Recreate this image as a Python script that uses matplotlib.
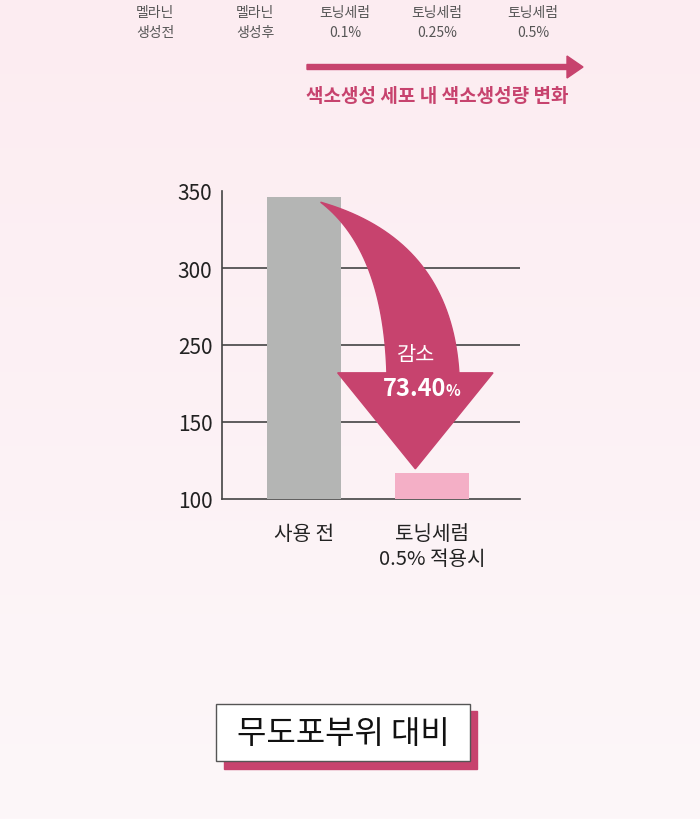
import numpy as np
import matplotlib.pyplot as plt
from matplotlib.patches import Polygon, Rectangle, FancyArrow
from matplotlib.scale import FuncScale

plt.rcParams['font.family'] = ['Noto Sans CJK KR', 'DejaVu Sans']

# data
categories = ['사용 전', '토닝세럼\n0.5% 적용시']
values = [346, 117]
bar_colors = ['#b4b5b4', '#f4afc6']
ytick_values = [100, 150, 250, 300, 350]   # the axis skips 200
stage_labels = ['멜라닌\n생성전', '멜라닌\n생성후', '토닝세럼\n0.1%', '토닝세럼\n0.25%', '토닝세럼\n0.5%']
stage_x = [155, 255, 345, 437, 533]        # pixel centers of the header columns
reduction_label = '73.40'

W, H = 700, 820
PINK = '#c7436e'

fig = plt.figure(figsize=(W / 100, H / 100), dpi=100)

# background gradient
bg = fig.add_axes([0, 0, 1, 1], zorder=-10)
grad = np.linspace(0, 1, 820)[:, None]
top = np.array([252, 236, 241]) / 255
bot = np.array([253, 247, 249]) / 255
img = top[None, None, :] * (1 - grad[:, :, None]) + bot[None, None, :] * grad[:, :, None]
bg.imshow(img, aspect='auto', extent=[0, 1, 0, 1], interpolation='bilinear')
bg.set_xlim(0, 1)
bg.set_ylim(0, 1)
bg.axis('off')


def fx(x):
    return x / W


def fy(y):
    return 1 - y / H


# header labels
for lbl, x in zip(stage_labels, stage_x):
    fig.text(fx(x), fy(23), lbl, ha='center', va='center', fontsize=10,
             color='#555555', linespacing=1.55)

fig.patches.append(FancyArrow(fx(307), fy(68), fx(567 - 307), 0, width=5 / H,
                              head_width=22 / H, head_length=16 / W,
                              length_includes_head=False, color=PINK,
                              transform=fig.transFigure, figure=fig))
fig.text(fx(437), fy(97), '색소생성 세포 내 색소생성량 변화', ha='center', va='center',
         fontsize=13.7, fontweight='bold', color=PINK)

# main chart with piecewise scale (ticks evenly spaced)
tick_pos = np.arange(len(ytick_values), dtype=float)


def fwd(v):
    return np.interp(v, ytick_values, tick_pos)


def inv(p):
    return np.interp(p, tick_pos, ytick_values)


ax = fig.add_axes([fx(222), fy(500), fx(520 - 222), (500 - 192) / H])
ax.set_facecolor('none')
ax.set_yscale(FuncScale(ax, (fwd, inv)))
x = np.arange(len(categories))
bars = ax.bar(x, values, width=0.58, color=bar_colors, zorder=3)
ax.set_xlim(-0.64, 1.6875)
ax.set_ylim(100, 350)
ax.set_yticks(ytick_values)
ax.set_yticklabels([str(v) for v in ytick_values], fontsize=15, color='#222222')
for v in ytick_values[1:-1]:
    ax.axhline(v, color='#444444', lw=1.2, zorder=1)
ax.set_xticks(x)
ax.set_xticklabels(categories, fontsize=14.5, color='#222222', linespacing=1.3, va='top')
ax.tick_params(axis='y', length=0, pad=7)
ax.tick_params(axis='x', length=0, pad=17)
for s in ['top', 'right']:
    ax.spines[s].set_visible(False)
for s in ['left', 'bottom']:
    ax.spines[s].set_color('#444444')
    ax.spines[s].set_linewidth(1.2)
ax.spines['left'].set_bounds(100, 350)

# curved arrow from first bar top to second bar top
fig.canvas.draw()
to_disp = ax.transData.transform
sx, sy = to_disp((x[0] + 0.58 / 2 - 0.16, values[0]))
sy -= 5
tx, ty = to_disp((x[1] - 0.13, values[1]))
ty += 4
dx, dy = tx - sx, sy - ty


def pt(u, v):
    return (sx + u * dx, sy - v * dy)


head_y = 0.64
outer = [pt(0, 0), pt(1.37, 0.14), pt(1.46, head_y)]
inner = [pt(0.70, head_y), pt(0.66, 0.18), pt(0, 0)]


def qbez(p0, p1, p2, n=40):
    t = np.linspace(0, 1, n)[:, None]
    p0, p1, p2 = map(np.array, (p0, p1, p2))
    return (1 - t) ** 2 * p0 + 2 * (1 - t) * t * p1 + t ** 2 * p2


verts = np.vstack([
    qbez(*outer),
    [pt(1.82, head_y)],
    [(tx, ty)],
    [pt(0.18, head_y)],
    qbez(*inner),
])
fig.patches.append(Polygon(verts, closed=True, color=PINK, transform=None,
                           figure=fig, zorder=5))

fig.text(fx(416), fy(355), '감소', ha='center', va='center', fontsize=15,
         color='white', zorder=6)
fig.text(fx(446), fy(389), reduction_label, ha='right', va='center',
         fontsize=17, fontweight='bold', color='white', zorder=6)
fig.text(fx(446), fy(391), '%', ha='left', va='center', fontsize=11,
         fontweight='bold', color='white', zorder=6)

# bottom caption box
fig.patches.append(Rectangle((fx(224), fy(770)), fx(253), (770 - 712) / H,
                             color=PINK, transform=fig.transFigure, figure=fig))
fig.patches.append(Rectangle((fx(216), fy(762)), fx(254), (762 - 705) / H,
                             facecolor='white', edgecolor='#555555', lw=1,
                             transform=fig.transFigure, figure=fig))
fig.text(fx(343), fy(734), '무도포부위 대비', ha='center', va='center',
         fontsize=23, color='#111111')

fig.savefig('out.png', dpi=100)
